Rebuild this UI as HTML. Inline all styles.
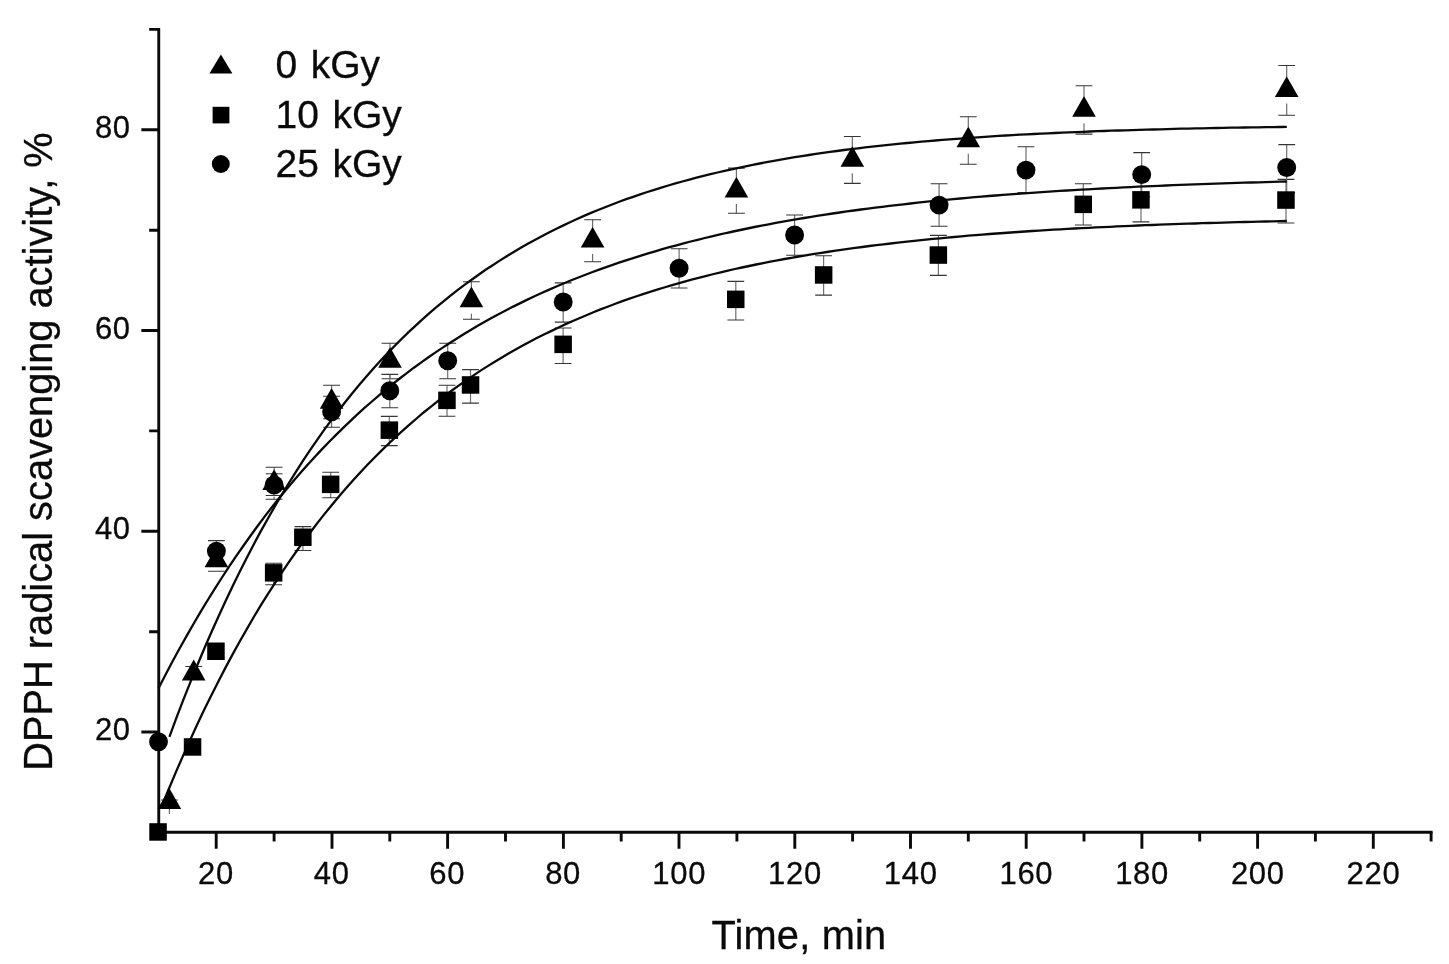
<!DOCTYPE html>
<html lang="en"><head><meta charset="utf-8"><title>DPPH radical scavenging activity</title>
<style>html,body{margin:0;padding:0;background:#fff}body{width:1449px;height:964px;overflow:hidden}svg{display:block;filter:blur(0.5px)}text{font-family:"Liberation Sans",sans-serif;fill:#0a0a0a;stroke:#0a0a0a;stroke-width:0.3px}.eb{stroke:#363636;stroke-width:1.1;fill:none}.ev{stroke:#6e6e6e;stroke-width:1.2;fill:none}.cv{stroke:#0a0a0a;stroke-width:2.3;fill:none;stroke-linecap:butt}.ax{stroke:#0a0a0a;stroke-width:2.9;fill:none}.sym{fill:#000}</style></head><body>
<svg width="1449" height="964" viewBox="0 0 1449 964">
<rect width="1449" height="964" fill="#fff"/>
<g id="errorbars">
<path class="eb" d="M161.0 800.0H177.8M161.0 804.0H177.8"/>
<path class="eb" d="M185.3 666.5H202.1M185.3 678.0H202.1"/>
<path class="eb" d="M208.0 549.7H224.8M208.0 571.3H224.8"/>
<path class="ev" d="M274.1 467.2V469.9M274.1 496.5V499.2"/><path class="eb" d="M265.7 467.2H282.5M265.7 499.2H282.5"/>
<path class="ev" d="M331.6 385.3V388.7M331.6 415.3V418.7"/><path class="eb" d="M323.2 385.3H340.0M323.2 418.7H340.0"/>
<path class="ev" d="M390.0 343.2V347.7M390.0 374.3V378.7"/><path class="eb" d="M381.6 343.2H398.4M381.6 378.7H398.4"/>
<path class="ev" d="M471.4 281.8V287.2M471.4 313.8V319.3"/><path class="eb" d="M463.0 281.8H479.8M463.0 319.3H479.8"/>
<path class="ev" d="M592.6 219.8V227.5M592.6 254.1V261.8"/><path class="eb" d="M584.2 219.8H601.0M584.2 261.8H601.0"/>
<path class="ev" d="M736.4 168.1V177.4M736.4 204.0V213.2"/><path class="eb" d="M728.0 168.1H744.8M728.0 213.2H744.8"/>
<path class="ev" d="M852.3 136.5V146.7M852.3 173.3V183.4"/><path class="eb" d="M843.9 136.5H860.7M843.9 183.4H860.7"/>
<path class="ev" d="M968.3 116.7V127.1M968.3 153.7V164.2"/><path class="eb" d="M959.9 116.7H976.7M959.9 164.2H976.7"/>
<path class="ev" d="M1084.0 85.8V96.7M1084.0 123.3V134.1"/><path class="eb" d="M1075.6 85.8H1092.4M1075.6 134.1H1092.4"/>
<path class="ev" d="M1286.7 65.5V77.0M1286.7 103.6V115.2"/><path class="eb" d="M1278.3 65.5H1295.1M1278.3 115.2H1295.1"/>
<path class="ev" d="M192.6 743.0V751.0"/><path class="eb" d="M184.2 743.0H201.0M184.2 751.0H201.0"/>
<path class="ev" d="M216.0 646.0V657.0"/><path class="eb" d="M207.6 646.0H224.4M207.6 657.0H224.4"/>
<path class="ev" d="M273.6 563.3V584.8"/><path class="eb" d="M265.2 563.3H282.0M265.2 584.8H282.0"/>
<path class="ev" d="M302.9 526.6V550.5"/><path class="eb" d="M294.5 526.6H311.3M294.5 550.5H311.3"/>
<path class="ev" d="M330.7 472.2V497.7"/><path class="eb" d="M322.3 472.2H339.1M322.3 497.7H339.1"/>
<path class="ev" d="M389.3 416.4V445.6"/><path class="eb" d="M380.9 416.4H397.7M380.9 445.6H397.7"/>
<path class="ev" d="M447.0 385.3V416.2"/><path class="eb" d="M438.6 385.3H455.4M438.6 416.2H455.4"/>
<path class="ev" d="M470.5 369.6V403.1"/><path class="eb" d="M462.1 369.6H478.9M462.1 403.1H478.9"/>
<path class="ev" d="M563.1 328.0V363.5"/><path class="eb" d="M554.7 328.0H571.5M554.7 363.5H571.5"/>
<path class="ev" d="M735.8 281.4V320.0"/><path class="eb" d="M727.4 281.4H744.2M727.4 320.0H744.2"/>
<path class="ev" d="M823.6 255.7V295.1"/><path class="eb" d="M815.2 255.7H832.0M815.2 295.1H832.0"/>
<path class="ev" d="M938.4 235.4V275.4"/><path class="eb" d="M930.0 235.4H946.8M930.0 275.4H946.8"/>
<path class="ev" d="M1083.3 183.8V225.0"/><path class="eb" d="M1074.9 183.8H1091.7M1074.9 225.0H1091.7"/>
<path class="ev" d="M1141.0 178.0V221.9"/><path class="eb" d="M1132.6 178.0H1149.4M1132.6 221.9H1149.4"/>
<path class="ev" d="M1286.0 179.4V223.0"/><path class="eb" d="M1277.6 179.4H1294.4M1277.6 223.0H1294.4"/>
<path class="ev" d="M216.4 540.6V561.6"/><path class="eb" d="M208.0 540.6H224.8M208.0 561.6H224.8"/>
<path class="ev" d="M274.1 473.8V495.5"/><path class="eb" d="M265.7 473.8H282.5M265.7 495.5H282.5"/>
<path class="ev" d="M331.6 396.3V427.3"/><path class="eb" d="M323.2 396.3H340.0M323.2 427.3H340.0"/>
<path class="ev" d="M389.8 374.4V407.7"/><path class="eb" d="M381.4 374.4H398.2M381.4 407.7H398.2"/>
<path class="ev" d="M447.7 343.2V378.7"/><path class="eb" d="M439.3 343.2H456.1M439.3 378.7H456.1"/>
<path class="ev" d="M563.2 282.9V322.1"/><path class="eb" d="M554.8 282.9H571.6M554.8 322.1H571.6"/>
<path class="ev" d="M679.1 248.7V288.0"/><path class="eb" d="M670.7 248.7H687.5M670.7 288.0H687.5"/>
<path class="ev" d="M794.6 215.0V255.3"/><path class="eb" d="M786.2 215.0H803.0M786.2 255.3H803.0"/>
<path class="ev" d="M939.1 183.8V226.3"/><path class="eb" d="M930.7 183.8H947.5M930.7 226.3H947.5"/>
<path class="ev" d="M1026.0 146.8V192.5"/><path class="eb" d="M1017.6 146.8H1034.4M1017.6 192.5H1034.4"/>
<path class="ev" d="M1141.7 152.6V196.6"/><path class="eb" d="M1133.3 152.6H1150.1M1133.3 196.6H1150.1"/>
<path class="ev" d="M1286.7 144.6V192.5"/><path class="eb" d="M1278.3 144.6H1295.1M1278.3 192.5H1295.1"/>
<path class="ev" d="M169.4 808V814"/>
</g>
<g id="fits">
<path class="cv" d="M169.4 736.8 L176.4 717.9 L183.4 699.6 L190.5 681.9 L197.5 664.7 L204.5 648.0 L211.6 631.8 L218.6 616.2 L225.6 600.9 L232.6 586.2 L239.7 571.8 L246.7 558.0 L253.7 544.5 L260.7 531.4 L267.8 518.7 L274.8 506.5 L281.8 494.5 L288.9 483.0 L295.9 471.8 L302.9 460.9 L309.9 450.4 L317.0 440.1 L324.0 430.2 L331.0 420.6 L338.1 411.3 L345.1 402.3 L352.1 393.5 L359.1 385.0 L366.2 376.8 L373.2 368.8 L380.2 361.1 L387.2 353.6 L394.3 346.3 L401.3 339.3 L408.3 332.4 L415.4 325.8 L422.4 319.4 L429.4 313.2 L436.4 307.2 L443.5 301.3 L450.5 295.6 L457.5 290.2 L464.5 284.8 L471.6 279.7 L478.6 274.7 L485.6 269.8 L492.7 265.2 L499.7 260.6 L506.7 256.2 L513.7 251.9 L520.8 247.8 L527.8 243.8 L534.8 239.9 L541.8 236.2 L548.9 232.5 L555.9 229.0 L562.9 225.6 L570.0 222.3 L577.0 219.0 L584.0 215.9 L591.0 212.9 L598.1 210.0 L605.1 207.2 L612.1 204.5 L619.2 201.8 L626.2 199.2 L633.2 196.8 L640.2 194.4 L647.3 192.0 L654.3 189.8 L661.3 187.6 L668.3 185.5 L675.4 183.4 L682.4 181.5 L689.4 179.6 L696.5 177.7 L703.5 175.9 L710.5 174.2 L717.5 172.5 L724.6 170.9 L731.6 169.3 L738.6 167.8 L745.6 166.3 L752.7 164.9 L759.7 163.5 L766.7 162.1 L773.8 160.8 L780.8 159.6 L787.8 158.4 L794.8 157.2 L801.9 156.1 L808.9 155.0 L815.9 153.9 L822.9 152.9 L830.0 151.9 L837.0 151.0 L844.0 150.0 L851.1 149.1 L858.1 148.3 L865.1 147.4 L872.1 146.6 L879.2 145.8 L886.2 145.1 L893.2 144.4 L900.3 143.7 L907.3 143.0 L914.3 142.3 L921.3 141.7 L928.4 141.1 L935.4 140.5 L942.4 139.9 L949.4 139.3 L956.5 138.8 L963.5 138.3 L970.5 137.8 L977.6 137.3 L984.6 136.8 L991.6 136.4 L998.6 135.9 L1005.7 135.5 L1012.7 135.1 L1019.7 134.7 L1026.7 134.4 L1033.8 134.0 L1040.8 133.6 L1047.8 133.3 L1054.9 133.0 L1061.9 132.7 L1068.9 132.4 L1075.9 132.1 L1083.0 131.8 L1090.0 131.5 L1097.0 131.2 L1104.0 131.0 L1111.1 130.7 L1118.1 130.5 L1125.1 130.3 L1132.2 130.1 L1139.2 129.9 L1146.2 129.6 L1153.2 129.5 L1160.3 129.3 L1167.3 129.1 L1174.3 128.9 L1181.4 128.7 L1188.4 128.6 L1195.4 128.4 L1202.4 128.3 L1209.5 128.1 L1216.5 128.0 L1223.5 127.9 L1230.5 127.7 L1237.6 127.6 L1244.6 127.5 L1251.6 127.4 L1258.7 127.3 L1265.7 127.2 L1272.7 127.1 L1279.7 127.0 L1286.8 126.9"/>
<path class="cv" d="M158.4 688.5 L165.5 674.8 L172.6 661.3 L179.7 648.3 L186.8 635.6 L193.9 623.2 L201.0 611.2 L208.1 599.5 L215.2 588.1 L222.3 577.0 L229.4 566.2 L236.5 555.7 L243.6 545.5 L250.7 535.5 L257.8 525.8 L264.8 516.4 L271.9 507.3 L279.0 498.3 L286.1 489.7 L293.2 481.2 L300.3 473.0 L307.4 465.0 L314.5 457.2 L321.6 449.6 L328.7 442.2 L335.8 435.1 L342.9 428.1 L350.0 421.3 L357.1 414.7 L364.2 408.2 L371.3 402.0 L378.4 395.9 L385.5 389.9 L392.6 384.2 L399.7 378.5 L406.8 373.1 L413.9 367.7 L421.0 362.6 L428.1 357.5 L435.2 352.6 L442.3 347.9 L449.4 343.2 L456.5 338.7 L463.6 334.3 L470.7 330.0 L477.7 325.8 L484.8 321.8 L491.9 317.8 L499.0 314.0 L506.1 310.3 L513.2 306.6 L520.3 303.1 L527.4 299.6 L534.5 296.3 L541.6 293.0 L548.7 289.9 L555.8 286.8 L562.9 283.8 L570.0 280.8 L577.1 278.0 L584.2 275.2 L591.3 272.5 L598.4 269.9 L605.5 267.3 L612.6 264.9 L619.7 262.4 L626.8 260.1 L633.9 257.8 L641.0 255.6 L648.1 253.4 L655.2 251.3 L662.3 249.2 L669.4 247.2 L676.5 245.3 L683.6 243.4 L690.6 241.5 L697.7 239.8 L704.8 238.0 L711.9 236.3 L719.0 234.7 L726.1 233.0 L733.2 231.5 L740.3 230.0 L747.4 228.5 L754.5 227.0 L761.6 225.6 L768.7 224.3 L775.8 222.9 L782.9 221.6 L790.0 220.4 L797.1 219.2 L804.2 218.0 L811.3 216.8 L818.4 215.7 L825.5 214.6 L832.6 213.5 L839.7 212.5 L846.8 211.4 L853.9 210.5 L861.0 209.5 L868.1 208.6 L875.2 207.7 L882.3 206.8 L889.4 205.9 L896.4 205.1 L903.5 204.3 L910.6 203.5 L917.7 202.7 L924.8 201.9 L931.9 201.2 L939.0 200.5 L946.1 199.8 L953.2 199.1 L960.3 198.5 L967.4 197.8 L974.5 197.2 L981.6 196.6 L988.7 196.0 L995.8 195.5 L1002.9 194.9 L1010.0 194.4 L1017.1 193.8 L1024.2 193.3 L1031.3 192.8 L1038.4 192.3 L1045.5 191.9 L1052.6 191.4 L1059.7 190.9 L1066.8 190.5 L1073.9 190.1 L1081.0 189.7 L1088.1 189.3 L1095.2 188.9 L1102.3 188.5 L1109.3 188.1 L1116.4 187.8 L1123.5 187.4 L1130.6 187.1 L1137.7 186.7 L1144.8 186.4 L1151.9 186.1 L1159.0 185.8 L1166.1 185.5 L1173.2 185.2 L1180.3 184.9 L1187.4 184.7 L1194.5 184.4 L1201.6 184.1 L1208.7 183.9 L1215.8 183.6 L1222.9 183.4 L1230.0 183.2 L1237.1 182.9 L1244.2 182.7 L1251.3 182.5 L1258.4 182.3 L1265.5 182.1 L1272.6 181.9 L1279.7 181.7 L1286.8 181.5"/>
<path class="cv" d="M161.9 805.9 L168.9 788.7 L176.0 771.9 L183.1 755.6 L190.2 739.9 L197.2 724.5 L204.3 709.6 L211.4 695.2 L218.5 681.2 L225.5 667.6 L232.6 654.4 L239.7 641.5 L246.8 629.1 L253.8 617.0 L260.9 605.2 L268.0 593.9 L275.1 582.8 L282.1 572.1 L289.2 561.6 L296.3 551.5 L303.4 541.7 L310.4 532.2 L317.5 522.9 L324.6 513.9 L331.7 505.2 L338.7 496.7 L345.8 488.5 L352.9 480.5 L360.0 472.8 L367.0 465.3 L374.1 458.0 L381.2 450.9 L388.3 444.0 L395.3 437.3 L402.4 430.9 L409.5 424.6 L416.6 418.5 L423.6 412.5 L430.7 406.8 L437.8 401.2 L444.9 395.8 L451.9 390.5 L459.0 385.4 L466.1 380.4 L473.2 375.6 L480.2 370.9 L487.3 366.4 L494.4 362.0 L501.5 357.7 L508.5 353.6 L515.6 349.5 L522.7 345.6 L529.8 341.8 L536.8 338.1 L543.9 334.5 L551.0 331.1 L558.1 327.7 L565.1 324.4 L572.2 321.2 L579.3 318.2 L586.4 315.2 L593.4 312.2 L600.5 309.4 L607.6 306.7 L614.7 304.0 L621.7 301.4 L628.8 298.9 L635.9 296.5 L643.0 294.1 L650.0 291.8 L657.1 289.6 L664.2 287.5 L671.3 285.4 L678.3 283.3 L685.4 281.3 L692.5 279.4 L699.6 277.6 L706.6 275.8 L713.7 274.0 L720.8 272.3 L727.9 270.6 L734.9 269.0 L742.0 267.5 L749.1 266.0 L756.2 264.5 L763.2 263.1 L770.3 261.7 L777.4 260.3 L784.5 259.0 L791.5 257.8 L798.6 256.5 L805.7 255.3 L812.8 254.2 L819.8 253.1 L826.9 252.0 L834.0 250.9 L841.1 249.9 L848.1 248.9 L855.2 247.9 L862.3 247.0 L869.4 246.0 L876.4 245.2 L883.5 244.3 L890.6 243.5 L897.7 242.7 L904.7 241.9 L911.8 241.1 L918.9 240.4 L925.9 239.6 L933.0 238.9 L940.1 238.3 L947.2 237.6 L954.2 237.0 L961.3 236.3 L968.4 235.7 L975.5 235.1 L982.5 234.6 L989.6 234.0 L996.7 233.5 L1003.8 233.0 L1010.8 232.5 L1017.9 232.0 L1025.0 231.5 L1032.1 231.0 L1039.1 230.6 L1046.2 230.2 L1053.3 229.7 L1060.4 229.3 L1067.4 228.9 L1074.5 228.5 L1081.6 228.2 L1088.7 227.8 L1095.7 227.4 L1102.8 227.1 L1109.9 226.8 L1117.0 226.4 L1124.0 226.1 L1131.1 225.8 L1138.2 225.5 L1145.3 225.2 L1152.3 225.0 L1159.4 224.7 L1166.5 224.4 L1173.6 224.2 L1180.6 223.9 L1187.7 223.7 L1194.8 223.5 L1201.9 223.2 L1208.9 223.0 L1216.0 222.8 L1223.1 222.6 L1230.2 222.4 L1237.2 222.2 L1244.3 222.0 L1251.4 221.8 L1258.5 221.6 L1265.5 221.5 L1272.6 221.3 L1279.7 221.1 L1286.8 221.0"/>
</g>
<g id="axes">
<path class="ax" d="M158.75 27.95V833.75M157.3 832.3H1432.6"/>
<path class="ax" d="M141.35 732.0H158.75M141.35 531.3H158.75M141.35 330.5H158.75M141.35 129.8H158.75M149.15 631.7H158.75M149.15 430.9H158.75M149.15 230.2H158.75M149.15 29.4H158.75M216.2 832.3V848.8M332.0 832.3V848.8M447.6 832.3V848.8M563.4 832.3V848.8M679.0 832.3V848.8M794.8 832.3V848.8M910.5 832.3V848.8M1026.2 832.3V848.8M1141.9 832.3V848.8M1257.6 832.3V848.8M1373.3 832.3V848.8M274.1 832.3V841.5M389.8 832.3V841.5M505.5 832.3V841.5M621.2 832.3V841.5M736.9 832.3V841.5M852.6 832.3V841.5M968.3 832.3V841.5M1084.0 832.3V841.5M1199.7 832.3V841.5M1315.4 832.3V841.5M1431.1 832.3V841.5"/>
</g>
<g id="symbols" class="sym">
<path d="M169.4 788.3L181.2 809.1H157.6Z"/>
<path d="M193.7 659.6L205.5 680.4H181.9Z"/>
<path d="M216.4 546.5L228.2 567.3H204.6Z"/>
<path d="M274.1 469.2L285.9 490.0H262.3Z"/>
<path d="M331.6 388.0L343.4 408.8H319.8Z"/>
<path d="M390.0 347.0L401.8 367.8H378.2Z"/>
<path d="M471.4 286.5L483.2 307.3H459.6Z"/>
<path d="M592.6 226.8L604.4 247.6H580.8Z"/>
<path d="M736.4 176.7L748.2 197.5H724.6Z"/>
<path d="M852.3 146.0L864.1 166.8H840.5Z"/>
<path d="M968.3 126.4L980.1 147.2H956.5Z"/>
<path d="M1084.0 96.0L1095.8 116.8H1072.2Z"/>
<path d="M1286.7 76.3L1298.5 97.1H1274.9Z"/>
<rect x="149.3" y="823.2" width="17.5" height="17.5"/>
<rect x="183.8" y="738.2" width="17.5" height="17.5"/>
<rect x="207.2" y="642.5" width="17.5" height="17.5"/>
<rect x="264.9" y="564.1" width="17.5" height="17.5"/>
<rect x="294.1" y="528.5" width="17.5" height="17.5"/>
<rect x="321.9" y="475.6" width="17.5" height="17.5"/>
<rect x="380.6" y="421.4" width="17.5" height="17.5"/>
<rect x="438.2" y="391.6" width="17.5" height="17.5"/>
<rect x="461.8" y="376.2" width="17.5" height="17.5"/>
<rect x="554.4" y="335.6" width="17.5" height="17.5"/>
<rect x="727.0" y="290.6" width="17.5" height="17.5"/>
<rect x="814.9" y="266.2" width="17.5" height="17.5"/>
<rect x="929.6" y="246.3" width="17.5" height="17.5"/>
<rect x="1074.5" y="195.6" width="17.5" height="17.5"/>
<rect x="1132.2" y="191.1" width="17.5" height="17.5"/>
<rect x="1277.2" y="191.3" width="17.5" height="17.5"/>
<circle cx="158.5" cy="741.7" r="9.45"/>
<circle cx="216.4" cy="551.1" r="9.45"/>
<circle cx="274.1" cy="485.0" r="9.45"/>
<circle cx="331.6" cy="411.8" r="9.45"/>
<circle cx="389.8" cy="390.7" r="9.45"/>
<circle cx="447.7" cy="360.7" r="9.45"/>
<circle cx="563.2" cy="302.0" r="9.45"/>
<circle cx="679.1" cy="268.3" r="9.45"/>
<circle cx="794.6" cy="235.0" r="9.45"/>
<circle cx="939.1" cy="205.1" r="9.45"/>
<circle cx="1026.0" cy="170.1" r="9.45"/>
<circle cx="1141.7" cy="174.6" r="9.45"/>
<circle cx="1286.7" cy="167.5" r="9.45"/>
</g>
<g id="legend" class="sym">
<path d="M220.9 54.6L232.4 73.4H209.4Z"/>
<rect x="212.6" y="106.8" width="16.8" height="16.6"/>
<circle cx="220.8" cy="164" r="9"/>
</g>
<g font-size="39" style="word-spacing:2.6px">
<text x="275.6" y="78.3">0 kGy</text>
<text x="275.6" y="128">10 kGy</text>
<text x="275.6" y="176.9">25 kGy</text>
</g>
<g font-size="31" text-anchor="middle" style="letter-spacing:0.7px">
<text x="215.9" y="883.6">20</text>
<text x="331.7" y="883.6">40</text>
<text x="447.3" y="883.6">60</text>
<text x="563.1" y="883.6">80</text>
<text x="679.2" y="883.6">100</text>
<text x="795.0" y="883.6">120</text>
<text x="910.7" y="883.6">140</text>
<text x="1026.4" y="883.6">160</text>
<text x="1142.1" y="883.6">180</text>
<text x="1257.8" y="883.6">200</text>
<text x="1373.5" y="883.6">220</text>
</g>
<g font-size="31" text-anchor="end" style="letter-spacing:0.5px">
<text x="130.6" y="740.1">20</text>
<text x="130.6" y="539.4">40</text>
<text x="130.6" y="338.6">60</text>
<text x="130.6" y="137.9">80</text>
</g>
<text x="798.9" y="949" font-size="39.8" text-anchor="middle" style="letter-spacing:0.2px">Time, min</text>
<text transform="translate(52.1 451.6) rotate(-90)" font-size="39.8" text-anchor="middle">DPPH radical scavenging activity, %</text>
</svg></body></html>
